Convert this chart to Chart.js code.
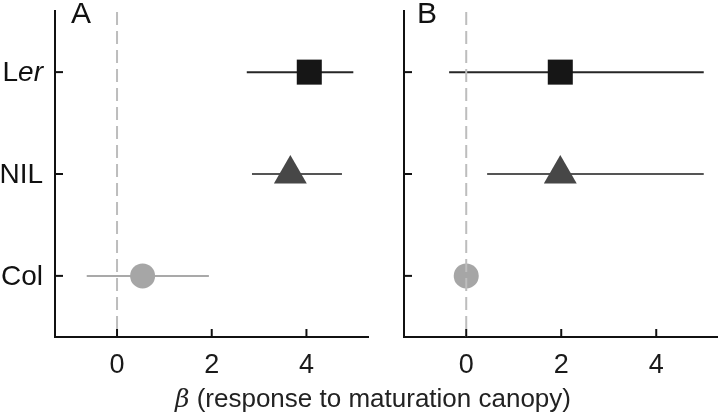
<!DOCTYPE html>
<html>
<head>
<meta charset="utf-8">
<script src="https://cdn.jsdelivr.net/npm/chart.js@4"></script>
<style>
  body { margin: 0; background: #fff; font-family: "Liberation Sans", Arial, sans-serif; }
  #wrap { position: relative; width: 718px; height: 415px; overflow: hidden; }
  .panel { position: absolute; top: 0; height: 415px; }
  #panelA { left: 0; width: 370px; }
  #panelB { left: 360px; width: 358px; }
  .letter { position: absolute; top: -6px; font-size: 30px; color: #111; line-height: 1; padding-top: 4px; }
  #xtitle { position: absolute; left: 0; width: 746px; top: 385px; text-align: center; font-size: 26px; color: #222; line-height: 1; }
  #xtitle i { font-family: "DejaVu Serif", serif; font-size: 25px; }
</style>
</head>
<body>
<div id="wrap">
  <div class="panel" id="panelA"><canvas id="chartA" width="370" height="415"></canvas></div>
  <div class="panel" id="panelB"><canvas id="chartB" width="358" height="415"></canvas></div>
  <div class="letter" style="left:71px">A</div>
  <div class="letter" style="left:417px">B</div>
  <div id="xtitle"><i>β</i> (response to maturation canopy)</div>
</div>
<script>
// genotypes, bottom to top
const genotypes = ['Col', 'NIL', 'Ler']
const genotypeParts = [[['Col', false]], [['NIL', false]], [['L', false], ['er', true]]]
const yPos = [0, 1, 2]

// panel A estimates and intervals
const estA = [0.54, 3.66, 4.06]
const lowA = [-0.64, 2.85, 2.74]
const highA = [1.94, 4.75, 4.99]

// panel B estimates and intervals
const estB = [0.0, 1.98, 1.98]
const lowB = [null, 0.44, -0.36]
const highB = [null, 5.0, 5.0]

const xTicks = [0, 2, 4]

const markerColors = ['#a6a6a6', '#474747', '#161616']
const barColors = ['#a9a9a9', '#555555', '#262626']
const markerStyles = ['circle', 'triangle', 'rect']
const markerRadii = [12.5, 19, 17.7]

function makeDatasets(est, low, high) {
  const sets = []
  genotypes.forEach((g, i) => {
    sets.push({
      label: g,
      data: [{ x: est[i], y: yPos[i] }],
      pointStyle: markerStyles[i],
      pointRadius: markerRadii[i],
      pointHoverRadius: markerRadii[i],
      backgroundColor: markerColors[i],
      borderColor: markerColors[i],
      borderWidth: 0,
      order: 0,
    })
    if (low[i] !== null) {
      sets.push({
        label: g + ' CI',
        data: [{ x: low[i], y: yPos[i] }, { x: high[i], y: yPos[i] }],
        showLine: true,
        borderColor: barColors[i],
        borderWidth: 2,
        pointRadius: 0,
        order: 1,
      })
    }
  })
  return sets
}

const decor = {
  id: 'decor',
  afterDatasetsDraw(chart, args, opts) {
    const { ctx, chartArea, scales } = chart
    const x = scales.x
    const y = scales.y
    ctx.save()
    // zero reference line
    const x0 = x.getPixelForValue(0)
    ctx.strokeStyle = '#bdbdbd'
    ctx.lineWidth = 2
    ctx.setLineDash([13, 6])
    ctx.beginPath()
    ctx.moveTo(x0, chartArea.top + 1)
    ctx.lineTo(x0, chartArea.bottom)
    ctx.stroke()
    ctx.setLineDash([])
    // inward ticks
    ctx.strokeStyle = '#111'
    ctx.lineWidth = 2
    xTicks.forEach((v) => {
      const px = x.getPixelForValue(v)
      ctx.beginPath()
      ctx.moveTo(px, chartArea.bottom)
      ctx.lineTo(px, chartArea.bottom - 8)
      ctx.stroke()
    })
    yPos.forEach((v) => {
      const py = y.getPixelForValue(v)
      ctx.beginPath()
      ctx.moveTo(chartArea.left, py)
      ctx.lineTo(chartArea.left + 8, py)
      ctx.stroke()
    })
    // category labels with italic parts
    if (opts.labels) {
      ctx.fillStyle = '#111'
      ctx.textBaseline = 'middle'
      ctx.textAlign = 'left'
      yPos.forEach((v, i) => {
        const py = y.getPixelForValue(v)
        const parts = genotypeParts[i]
        let w = 0
        parts.forEach(([t, it]) => {
          ctx.font = (it ? 'italic ' : '') + '28px "Liberation Sans", Arial, sans-serif'
          w += ctx.measureText(t).width
        })
        let px = opts.labelRight - w
        parts.forEach(([t, it]) => {
          ctx.font = (it ? 'italic ' : '') + '28px "Liberation Sans", Arial, sans-serif'
          ctx.fillText(t, px, py + 1)
          px += ctx.measureText(t).width
        })
      })
    }
    ctx.restore()
  },
}

function makeChart(id, est, low, high, yWidth, rightPad, showLabels) {
  return new Chart(document.getElementById(id), {
    type: 'scatter',
    data: { datasets: makeDatasets(est, low, high) },
    options: {
      responsive: false,
      animation: false,
      layout: { autoPadding: false, padding: { top: 11, right: rightPad, left: 0, bottom: 0 } },
      plugins: {
        legend: { display: false },
        tooltip: { enabled: false },
        decor: { labels: showLabels, labelRight: 43 },
      },
      scales: {
        x: {
          type: 'linear',
          min: -1.31,
          max: 5.3,
          afterBuildTicks: (s) => { s.ticks = xTicks.map((v) => ({ value: v })) },
          afterFit: (s) => { s.height = 78 },
          grid: { drawOnChartArea: false, drawTicks: false },
          border: { display: true, color: '#111', width: 2 },
          ticks: { padding: 12, color: '#1a1a1a', font: { size: 27, family: '"Liberation Sans", Arial, sans-serif' } },
        },
        y: {
          type: 'linear',
          min: -0.6,
          max: 2.6,
          afterBuildTicks: (s) => { s.ticks = yPos.map((v) => ({ value: v })) },
          afterFit: (s) => { s.width = yWidth },
          grid: { drawOnChartArea: false, drawTicks: false },
          border: { display: true, color: '#111', width: 2 },
          ticks: { display: false },
        },
      },
    },
    plugins: [decor],
  })
}

makeChart('chartA', estA, lowA, highA, 55, 2, true)
makeChart('chartB', estB, lowB, highB, 44, 0, false)
</script>
</body>
</html>
